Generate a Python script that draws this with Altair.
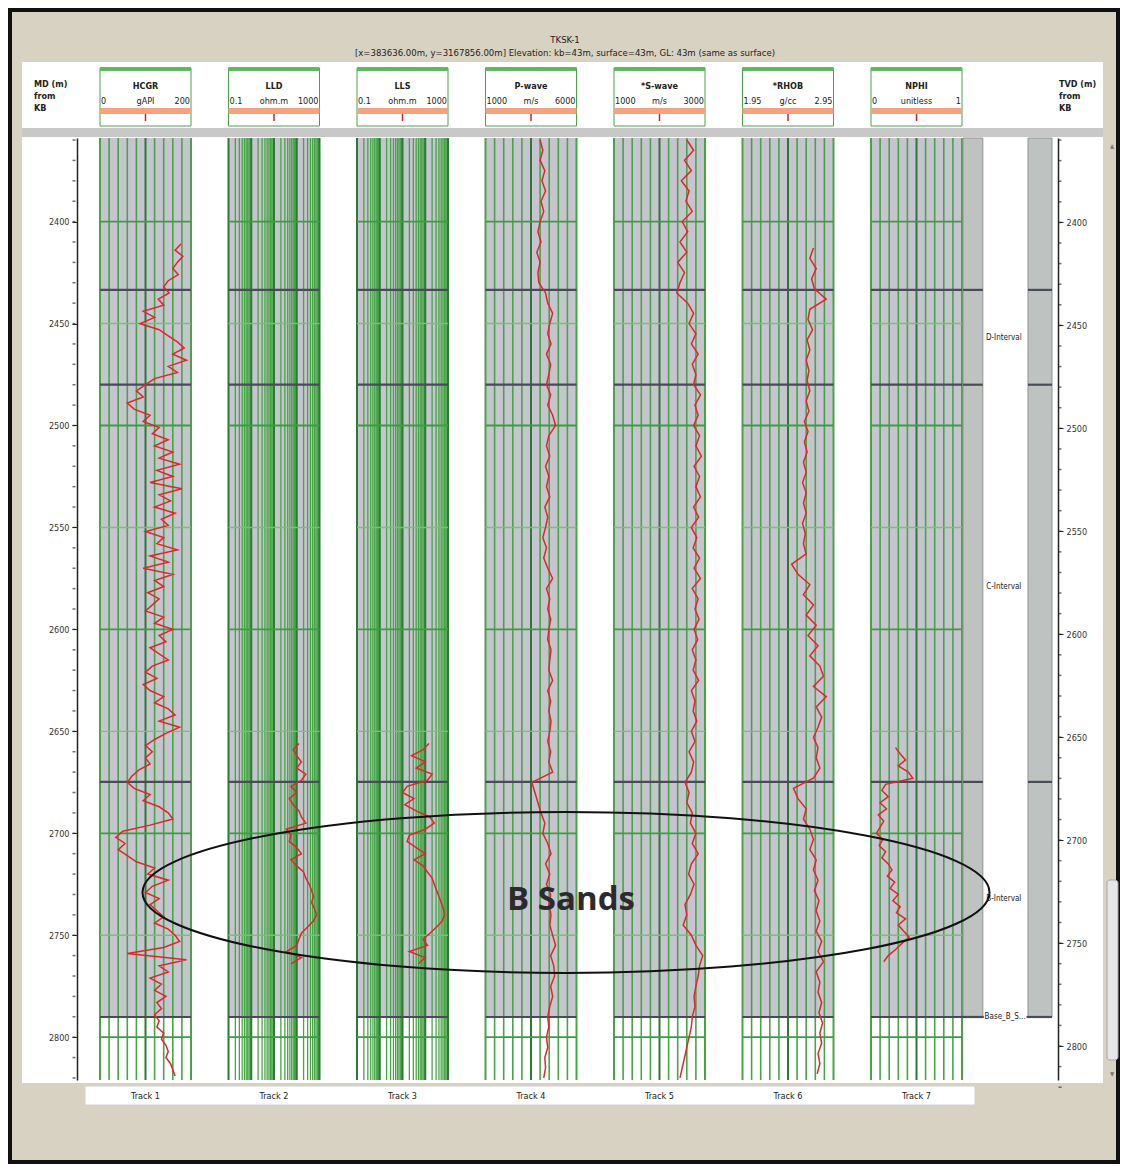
import math
import altair as alt
import pandas as pd

# ------------------------------------------------------------------ data
TITLE_MAIN = "TKSK-1"
TITLE_SUB = "[x=383636.00m, y=3167856.00m] Elevation: kb=43m, surface=43m, GL: 43m (same as surface)"

MD_HEADER = ["MD (m)", "from", "KB"]
TVD_HEADER = ["TVD (m)", "from", "KB"]
MD_TICKS = [2400, 2450, 2500, 2550, 2600, 2650, 2700, 2750, 2800]
TVD_TICKS = [2400, 2450, 2500, 2550, 2600, 2650, 2700, 2750, 2800]
MINOR_TICKS = list(range(2360, 2821, 10))
MD_DOMAIN = [2359, 2821]
TVD_DOMAIN = [2359, 2816.5]
HGRID_DEPTHS = [2400, 2450, 2500, 2550, 2600, 2650, 2700, 2750, 2800]

HORIZON_DEPTHS = [2433.5, 2480.0, 2674.8, 2790.1]
ZONE_NAMES = ["D-Interval", "C-Interval", "B-Interval"]
ZONE_LABEL_DEPTHS = [2457, 2579, 2732]
BASE_NAME = "Base_B_S..."

ANNOT_TEXT = "B Sands"
ANNOT_DEPTH = 2729

TRACK_LABELS = ["Track 1", "Track 2", "Track 3", "Track 4", "Track 5", "Track 6", "Track 7"]
CURVE_NAMES = ["HCGR", "LLD", "LLS", "P-wave", "*S-wave", "*RHOB", "NPHI"]
CURVE_UNITS = ["gAPI", "ohm.m", "ohm.m", "m/s", "m/s", "g/cc", "unitless"]
CURVE_MIN = [0, 0.1, 0.1, 1000, 1000, 1.95, 0]
CURVE_MAX = [200, 1000, 1000, 6000, 3000, 2.95, 1]
CURVE_LOG = [False, True, True, False, False, False, False]
MIN_LABELS = ["0", "0.1", "0.1", "1000", "1000", "1.95", "0"]
MAX_LABELS = ["200", "1000", "1000", "6000", "3000", "2.95", "1"]

GR = [178, 165, 182, 170, 160, 172, 150, 140, 152, 128,
      140, 95, 120, 88, 130, 150, 170, 185, 160, 190,
      150, 170, 120, 100, 80, 95, 60, 75, 110, 95,
      130, 115, 150, 120, 160, 130, 175, 125, 160, 110,
      180, 130, 155, 120, 165, 135, 150, 100, 140, 125,
      170, 110, 150, 95, 160, 120, 140, 105, 130, 115,
      100, 140, 120, 160, 130, 145, 110, 130, 150, 115,
      100, 125, 95, 110, 140, 120, 150, 165, 130, 175,
      145, 120, 100, 115, 100, 110, 85, 70, 60, 75,
      110, 95, 130, 150, 160, 110, 50, 35, 55, 40,
      60, 80, 120, 105, 150, 115, 100, 130, 110, 125,
      140, 120, 150, 165, 175, 140, 60, 190, 130, 150,
      110, 135, 120, 145, 125, 135, 120, 130, 125, 140,
      135, 145, 150, 145, 155, 160, 165]
LLD = [125, 70, 100, 160, 100, 250, 160, 56, 100, 47,
       70, 125, 160, 250, 35, 56, 47, 100, 160, 56,
       100, 200, 250, 355, 450, 540, 450, 600, 740, 540,
       300, 160, 125, 100, 35, 160, 56]
LLS = [145, 80, 25, 100, 40, 200, 125, 16, 10, 32,
       12.6, 40, 160, 250, 100, 20, 16, 40, 100, 32,
       80, 125, 200, 250, 316, 400, 500, 630, 700, 560,
       316, 160, 80, 125, 20, 100, 50]
PWAVE = [4000, 4150, 4000, 4260, 4100, 4300, 4050, 4200, 4000, 3880,
         4050, 3820, 4000, 3880, 3930, 4300, 4420, 4690, 4530, 4420,
         4600, 4350, 4580, 4480, 4350, 4580, 4420, 4690, 4850, 4480,
         4350, 4530, 4300, 4480, 4350, 4530, 4260, 4420, 4300, 4150,
         4350, 4200, 4420, 4690, 4350, 4530, 4420, 4580, 4480, 4420,
         4600, 4530, 4480, 4690, 4420, 4580, 4480, 4600, 4530, 4420,
         4580, 4480, 4690, 3550, 3715, 3880, 4050, 4260, 4150, 4420,
         4600, 4300, 4530, 4350, 4580, 4480, 4600, 4530, 4690, 4850,
         4580, 4750, 4800, 4580, 4690, 4530, 4420, 4480, 4350, 4420,
         4260, 4300, 4200]
SWAVE = [2600, 2750, 2550, 2700, 2480, 2650, 2580, 2720, 2500, 2620,
         2450, 2600, 2400, 2550, 2450, 2380, 2620, 2750, 2650, 2800,
         2700, 2850, 2720, 2800, 2750, 2900, 2780, 2850, 2750, 2880,
         2800, 2920, 2760, 2880, 2800, 2900, 2750, 2860, 2700, 2820,
         2740, 2880, 2760, 2900, 2720, 2850, 2780, 2870, 2760, 2840,
         2720, 2800, 2740, 2860, 2700, 2780, 2740, 2820, 2700, 2780,
         2650, 2750, 2700, 2560, 2650, 2600, 2720, 2680, 2800, 2720,
         2850, 2700, 2640, 2760, 2680, 2560, 2600, 2520, 2700, 2800,
         2950, 2880, 2850, 2800, 2760, 2780, 2720, 2700, 2650, 2600,
         2550, 2500, 2450]
RHOB = [2.73, 2.69, 2.76, 2.71, 2.74, 2.87, 2.69, 2.67, 2.72, 2.66,
        2.69, 2.65, 2.68, 2.66, 2.69, 2.65, 2.68, 2.63, 2.67, 2.63,
        2.66, 2.62, 2.65, 2.61, 2.65, 2.62, 2.65, 2.61, 2.64, 2.62,
        2.65, 2.49, 2.56, 2.69, 2.62, 2.73, 2.65, 2.76, 2.67, 2.78,
        2.69, 2.80, 2.84, 2.73, 2.87, 2.76, 2.82, 2.78, 2.73, 2.78,
        2.76, 2.80, 2.73, 2.51, 2.56, 2.65, 2.62, 2.69, 2.73, 2.69,
        2.76, 2.73, 2.78, 2.74, 2.79, 2.76, 2.80, 2.76, 2.82, 2.78,
        2.84, 2.76, 2.80, 2.78, 2.82, 2.79, 2.83, 2.80, 2.82, 2.78,
        2.80, 2.77]
NPHI = [0.27, 0.32, 0.38, 0.30, 0.41, 0.46, 0.16, 0.12, 0.19, 0.10,
        0.17, 0.08, 0.14, 0.10, 0.06, 0.13, 0.09, 0.16, 0.12, 0.19,
        0.23, 0.18, 0.26, 0.21, 0.30, 0.24, 0.32, 0.28, 0.38, 0.30,
        0.36, 0.42, 0.34, 0.27, 0.19, 0.14]

CURVE_VALUES = [GR, LLD, LLS, PWAVE, SWAVE, RHOB, NPHI]
CURVE_TOPS = [2411, 2656, 2656, 2360, 2360, 2413, 2658]
CURVE_STEPS = [3, 3, 3, 5, 5, 5, 3]

# ------------------------------------------------------------------ layout / style
W, H = 1112, 1156
MD_RANGE = [130, 1072]
TRACK_X0, TRACK_PITCH, TRACK_W = 92, 128.5, 91
ZONE_RANGE = [953, 1044]
FONT = "Liberation Sans Narrow, DejaVu Sans Condensed, Arial Narrow, sans-serif"

BEIGE = "#d8d2c3"
TRACK_BG = "#c6c4ce"
GREEN = "#46a646"
GREEN_DARK = "#2a7a34"
HGREEN = "#3c9c44"
HORIZON = "#4a4a58"
RED = "#e0262a"
ZONE_GRAY = "#bec2c1"

ONE = pd.DataFrame({"k": [0]})


def deco_rect(x, x2, y, y2, **kw):
    return alt.Chart(ONE).mark_rect(**kw).encode(
        x=alt.value(x), x2=alt.value(x2), y=alt.value(y), y2=alt.value(y2))


def deco_text(x, y, txt, **kw):
    opts = dict(font=FONT, fontSize=9, color="#222")
    opts.update(kw)
    return alt.Chart(ONE).mark_text(text=txt, **opts).encode(x=alt.value(x), y=alt.value(y))


def md_scale():
    return alt.Scale(domain=MD_DOMAIN, range=MD_RANGE, nice=False, zero=False)


def track_chart(i):
    lo, hi, log = CURVE_MIN[i], CURVE_MAX[i], CURVE_LOG[i]
    x0 = TRACK_X0 + i * TRACK_PITCH
    xs = alt.Scale(type="log" if log else "linear", domain=[lo, hi],
                   range=[x0, x0 + TRACK_W], nice=False, **({} if log else {"zero": False}))
    ys = md_scale()
    mid = math.sqrt(lo * hi) if log else (lo + hi) / 2

    def X(f):
        return alt.X(f, scale=xs, axis=None)

    def Y(f):
        return alt.Y(f, scale=ys, axis=None)

    box = pd.DataFrame({
        "lo": [lo], "hi": [hi], "mid": [mid],
        "top": [MD_DOMAIN[0]], "base": [HORIZON_DEPTHS[-1]], "bot": [MD_DOMAIN[1]],
        "name": [CURVE_NAMES[i]], "unit": [CURVE_UNITS[i]],
        "lo_lab": [MIN_LABELS[i]], "hi_lab": [MAX_LABELS[i]], "track": [TRACK_LABELS[i]],
    })

    if log:
        gv, gw, gc = [], [], []
        for e in range(-1, 3):
            for m in range(1, 10):
                gv.append(m * 10 ** e)
                gw.append(2.0 if m == 1 else 1.3)
                gc.append(GREEN_DARK if m == 1 else GREEN)
        gv.append(hi); gw.append(2.0); gc.append(GREEN_DARK)
    else:
        gv = [lo + k * (hi - lo) / 10 for k in range(11)]
        gw = [2.0 if k in (0, 5, 10) else 1.6 for k in range(11)]
        gc = [GREEN_DARK if k == 5 else GREEN for k in range(11)]
    grid_df = pd.DataFrame({"v": gv, "w": gw, "c": gc,
                            "top": MD_DOMAIN[0], "bot": MD_DOMAIN[1]})

    hg_df = pd.DataFrame({"d": HGRID_DEPTHS, "lo": lo, "hi": hi,
                          "c": [HGREEN if d % 100 == 0 else "#78c078" for d in HGRID_DEPTHS],
                          "w": [1.8 if d % 100 == 0 else 1.4 for d in HGRID_DEPTHS]})
    hz_df = pd.DataFrame({"d": HORIZON_DEPTHS, "lo": lo, "hi": hi})

    vals = CURVE_VALUES[i]
    cdf = pd.DataFrame({"depth": [CURVE_TOPS[i] + k * CURVE_STEPS[i] for k in range(len(vals))],
                        "v": vals})

    b = alt.Chart(box)
    layers = [
        b.mark_rect(fill="white", stroke=GREEN, strokeWidth=1).encode(
            x=X("lo:Q"), x2="hi:Q", y=alt.value(60), y2=alt.value(118)),
        b.mark_rect(fill="#5cbc5c").encode(x=X("lo:Q"), x2="hi:Q", y=alt.value(59), y2=alt.value(63)),
        b.mark_rect(fill="#f5a280").encode(x=X("lo:Q"), x2="hi:Q", y=alt.value(100), y2=alt.value(106)),
        b.mark_rule(color="#d42020", strokeWidth=1.5).encode(x=X("mid:Q"), y=alt.value(106), y2=alt.value(113)),
        b.mark_text(font=FONT, fontSize=9, fontWeight="bold", color="#222").encode(
            x=X("mid:Q"), y=alt.value(78), text="name:N"),
        b.mark_text(font=FONT, fontSize=9, color="#222", align="left", dx=1).encode(
            x=X("lo:Q"), y=alt.value(93), text="lo_lab:N"),
        b.mark_text(font=FONT, fontSize=9, color="#222", align="right", dx=-1).encode(
            x=X("hi:Q"), y=alt.value(93), text="hi_lab:N"),
        b.mark_text(font=FONT, fontSize=9, color="#222").encode(
            x=X("mid:Q"), y=alt.value(93), text="unit:N"),
        b.mark_rect(fill=TRACK_BG).encode(x=X("lo:Q"), x2="hi:Q", y=Y("top:Q"), y2="base:Q"),
        alt.Chart(grid_df).mark_rule().encode(
            x=X("v:Q"), y=Y("top:Q"), y2="bot:Q",
            color=alt.Color("c:N", scale=None), strokeWidth=alt.StrokeWidth("w:Q", scale=None)),
        alt.Chart(hg_df).mark_rule().encode(
            x=X("lo:Q"), x2="hi:Q", y=Y("d:Q"),
            color=alt.Color("c:N", scale=None), strokeWidth=alt.StrokeWidth("w:Q", scale=None)),
        alt.Chart(hz_df).mark_rule(color=HORIZON, strokeWidth=2.2).encode(
            x=X("lo:Q"), x2="hi:Q", y=Y("d:Q")),
        alt.Chart(cdf).mark_line(color=RED, strokeWidth=1.5).encode(
            x=X("v:Q"), y=Y("depth:Q"), order="depth:Q"),
        b.mark_text(font=FONT, fontSize=9, color="#222").encode(
            x=X("mid:Q"), y=alt.value(1088), text="track:N"),
    ]
    return alt.layer(*layers)


def zone_chart():
    xs = alt.Scale(domain=[0, 1], range=ZONE_RANGE, nice=False, zero=False)
    ys = md_scale()

    def X(f):
        return alt.X(f, scale=xs, axis=None)

    def Y(f):
        return alt.Y(f, scale=ys, axis=None)

    bars = pd.DataFrame({"lo": [0.022, 0.736], "hi": [0.24, 1.0],
                         "top": MD_DOMAIN[0], "base": HORIZON_DEPTHS[-1]})
    hz = pd.DataFrame({"d": HORIZON_DEPTHS[:3] * 2,
                       "lo": [0.022] * 3 + [0.736] * 3, "hi": [0.24] * 3 + [1.0] * 3})
    base = pd.DataFrame({"d": [HORIZON_DEPTHS[-1]] * 2, "lo": [0.0, 0.72], "hi": [0.25, 1.0]})
    labs = pd.DataFrame({"d": ZONE_LABEL_DEPTHS, "x": 0.47, "t": ZONE_NAMES})
    blab = pd.DataFrame({"d": [HORIZON_DEPTHS[-1]], "x": [0.485], "t": [BASE_NAME]})
    return alt.layer(
        alt.Chart(bars).mark_rect(fill=ZONE_GRAY, stroke="#8e9493", strokeWidth=1).encode(
            x=X("lo:Q"), x2="hi:Q", y=Y("top:Q"), y2="base:Q"),
        alt.Chart(hz).mark_rule(color=HORIZON, strokeWidth=2.2).encode(x=X("lo:Q"), x2="hi:Q", y=Y("d:Q")),
        alt.Chart(base).mark_rule(color=HORIZON, strokeWidth=2.2).encode(x=X("lo:Q"), x2="hi:Q", y=Y("d:Q")),
        alt.Chart(labs).mark_text(font=FONT, fontSize=8, color="#222").encode(
            x=X("x:Q"), y=Y("d:Q"), text="t:N"),
        alt.Chart(blab).mark_text(font=FONT, fontSize=8, color="#222").encode(
            x=X("x:Q"), y=Y("d:Q"), text="t:N"),
    )


def depth_axes():
    md = pd.DataFrame({"d": MD_TICKS})
    mn = pd.DataFrame({"d": MINOR_TICKS})
    tv = pd.DataFrame({"d": TVD_TICKS})
    tvd_scale = alt.Scale(domain=TVD_DOMAIN, range=MD_RANGE, nice=False, zero=False)
    ax_common = dict(title=None, grid=False, format="d", labelFont=FONT, labelFontSize=9,
                     labelColor="#333", domainColor="#222", tickColor="#222", tickSize=5,
                     domainWidth=1.5, labelPadding=3, zindex=2)
    left = alt.Chart(md).mark_tick(opacity=0).encode(
        y=alt.Y("d:Q", scale=md_scale(),
                axis=alt.Axis(orient="left", offset=-69, values=MD_TICKS, **ax_common)))
    left_minor = alt.Chart(mn).mark_tick(color="#333", size=3, thickness=1.5).encode(
        x=alt.value(66), y=alt.Y("d:Q", scale=md_scale(), axis=None))
    right = alt.Chart(tv).mark_tick(opacity=0).encode(
        y=alt.Y("d:Q", scale=tvd_scale,
                axis=alt.Axis(orient="right", offset=-(W - 1050), values=TVD_TICKS, **ax_common)))
    right_minor = alt.Chart(mn).mark_tick(color="#333", size=3, thickness=1.5).encode(
        x=alt.value(1052), y=alt.Y("d:Q", scale=tvd_scale, axis=None))
    return [left, left_minor, right, right_minor]


ELLIPSE_PATH = "M -1 0 A 1 0.19 0 1 1 1 0 A 1 0.19 0 1 1 -1 0 Z"

layers = [
    deco_rect(2, 1110, 2, 1154, fill=BEIGE, stroke="#111", strokeWidth=4),
    deco_rect(14, 1095, 54, 1075, fill="white"),
    deco_rect(14, 1095, 120, 129, fill="#c8c8c8"),
    deco_rect(77, 967, 1078, 1097, fill="white", stroke="#d0d0d0", strokeWidth=1),
    deco_rect(1099, 1110, 872, 1052, fill="#e6e6e6", stroke="#a6a6a6", strokeWidth=1, cornerRadius=3),
    deco_text(1104, 138, "▲", fontSize=6, color="#777"),
    deco_text(1104, 1066, "▼", fontSize=6, color="#777"),
    deco_text(557, 32, TITLE_MAIN, fontSize=9.5),
    deco_text(557, 45, TITLE_SUB, fontSize=9.5),
]
for j, t in enumerate(MD_HEADER):
    layers.append(deco_text(26, 76 + 12 * j, t, align="left", fontWeight="bold"))
for j, t in enumerate(TVD_HEADER):
    layers.append(deco_text(1051, 76 + 12 * j, t, align="left", fontWeight="bold"))

for i in range(len(TRACK_LABELS)):
    layers.append(track_chart(i))
layers.append(zone_chart())
layers.extend(depth_axes())

annot = pd.DataFrame({"d": [ANNOT_DEPTH], "t": [ANNOT_TEXT]})
layers.append(alt.Chart(annot).mark_point(
    shape=ELLIPSE_PATH, size=847 * 847, filled=False, stroke="#111", strokeWidth=2, opacity=1).encode(
    x=alt.value(558), y=alt.Y("d:Q", scale=md_scale(), axis=None)))
layers.append(alt.Chart(annot).mark_text(
    font="Open Sans", fontSize=33, fontWeight="bold", color="#2b2b2b").encode(
    x=alt.value(563), y=alt.value(892), text="t:N"))

chart = alt.layer(*layers).resolve_scale(x="independent", y="independent").properties(
    width=W, height=H, padding=0, background=BEIGE,
    autosize=alt.AutoSizeParams(type="none"),
).configure_view(stroke=None)

chart.save("out.html", embed_options={"renderer": "svg", "actions": False})
